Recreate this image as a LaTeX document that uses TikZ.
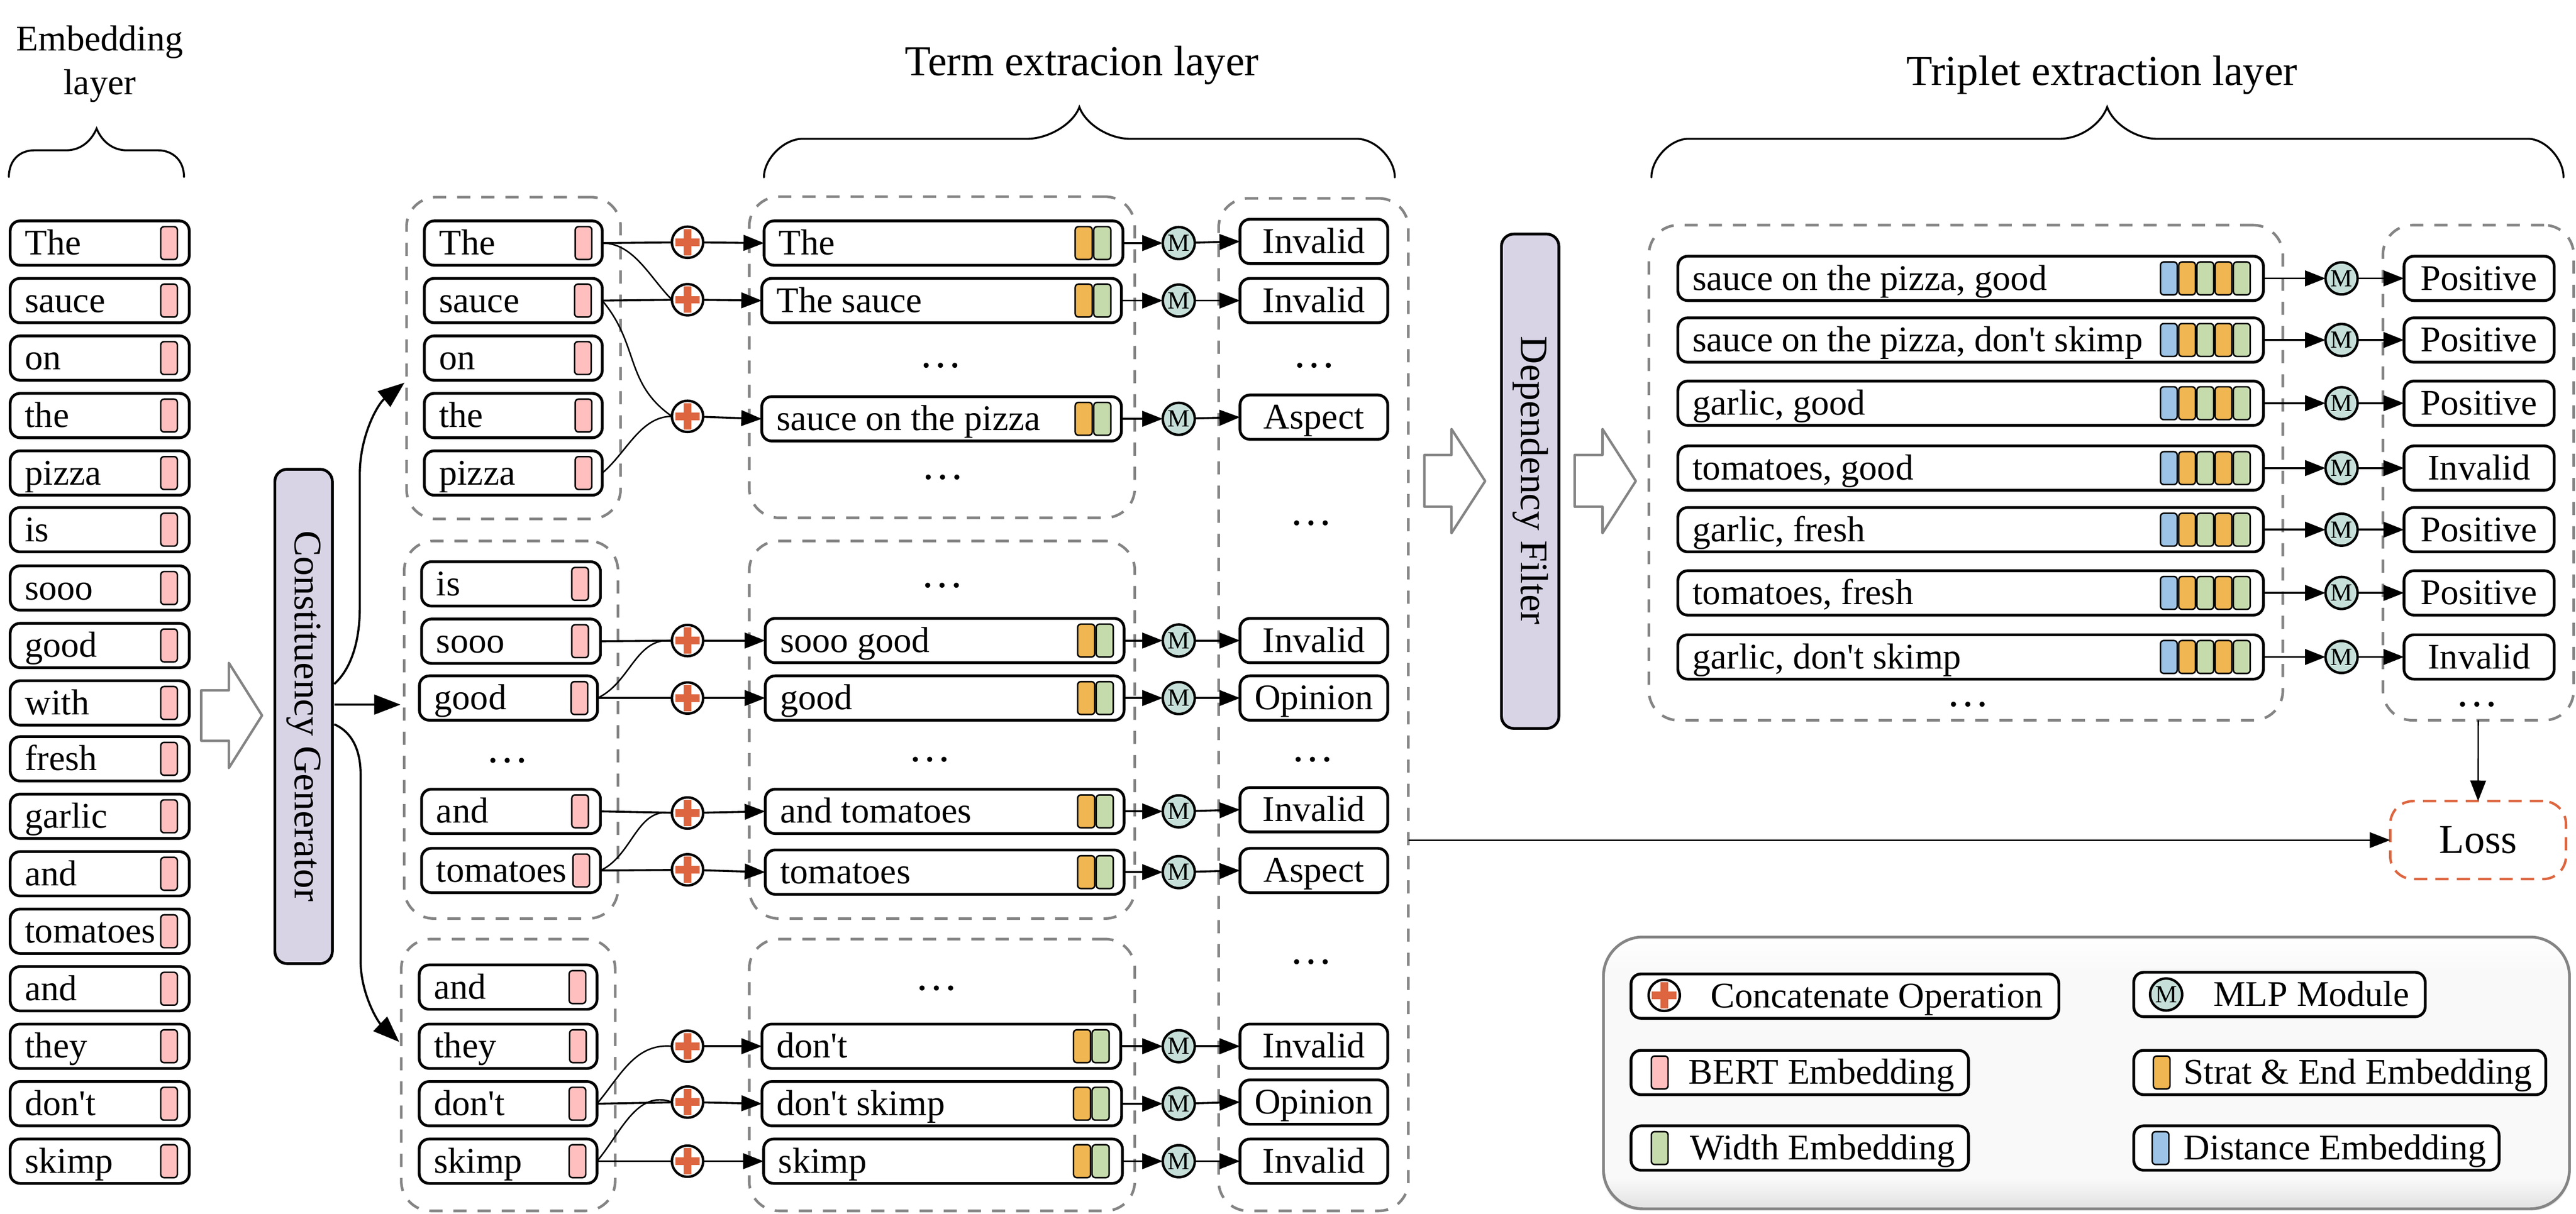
\documentclass[tikz,border=0pt]{standalone}
\usepackage{fontspec}
\setmainfont{Liberation Serif}[Ligatures=TeXOff]
\usetikzlibrary{arrows.meta,calc}
\definecolor{pinkc}{HTML}{FFBFBF}
\definecolor{orangec}{HTML}{F0B651}
\definecolor{greenc}{HTML}{C6DBAC}
\definecolor{bluec}{HTML}{9DC3E6}
\definecolor{tealc}{HTML}{C6E0D9}
\definecolor{crossc}{HTML}{DD6640}
\definecolor{purplec}{HTML}{D8D4E6}
\definecolor{grayc}{HTML}{848484}
\tikzset{
  bodyfont/.style={font=\fontsize{22}{26}\selectfont},
  wbox/.style={draw=black,fill=white,line width=1.7pt,rounded corners=6pt,outer sep=0pt,inner xsep=1pt,inner ysep=0pt,
    minimum height=27pt,text height=18.2pt,text depth=4pt,align=left,bodyfont},
  cbox/.style={draw=black,fill=white,line width=1.7pt,rounded corners=6pt,outer sep=0pt,inner sep=0pt,
    minimum height=27pt,text height=18.2pt,text depth=4pt,align=center,bodyfont},
  swatch/.style={draw=black,line width=0.9pt,rounded corners=2pt,outer sep=0pt,inner sep=0pt,minimum height=20pt},
  grp/.style={draw=grayc,line width=1.6pt,rounded corners=18pt,dash pattern=on 8pt off 6.7pt,outer sep=0pt,inner sep=0pt},
  plusn/.style={circle,draw=black,fill=white,line width=1.5pt,minimum size=19pt,inner sep=0pt,outer sep=0pt},
  mlpn/.style={circle,draw=black,fill=tealc,line width=1.5pt,minimum size=19.5pt,inner sep=0pt,outer sep=0pt,font=\fontsize{15}{15}\selectfont},
  barn/.style={draw=black,fill=purplec,line width=1.7pt,rounded corners=7.5pt,outer sep=0pt,inner sep=0pt},
  ln/.style={line width=1.2pt},
  cv/.style={line width=0.9pt},
  ar/.style={line width=1.2pt,-{Triangle[length=12.5pt,width=9.5pt]}},
  big/.style={line width=1.3pt,-{Triangle[length=16pt,width=12pt]}},
  hol/.style={draw=grayc,fill=white,line width=1.5pt,line join=round},
  dotsn/.style={font=\fontsize{26}{26}\selectfont,anchor=base,inner sep=0pt},
  title/.style={font=\fontsize{25.9}{30}\selectfont,anchor=base,inner sep=0pt},
  brace/.style={line width=1.2pt,line cap=round},
}
% box with left aligned text: name, x1, x2, y, text, [pad]
\newcommand\wb[6][8]{%
  \pgfmathsetmacro\wcx{(#3+#4)/2}\pgfmathsetmacro\www{#4-#3-1.6}\pgfmathsetmacro\wtw{\www-2}%
  \node[wbox,minimum width=\www pt,text width=\wtw pt] (#2) at (\wcx,#5) {\spaceskip=0pt\xspaceskip=0pt\hspace*{#1pt}\mbox{#6}};}
% box with centred text
\newcommand\cb[5]{%
  \pgfmathsetmacro\wcx{(#2+#3)/2}\pgfmathsetmacro\www{#3-#2-1.6}%
  \node[cbox,minimum width=\www pt] (#1) at (\wcx,#4) {#5};}
% colour block: name, colour, x1, w, y
\newcommand\sw[5]{\pgfmathsetmacro\wsw{#4-0.9}\node[swatch,fill=#2,minimum width=\wsw pt] (#1) at ({#3+#4/2},#5) {};}
% group: name, x1, x2, y1, y2
\newcommand\group[5]{%
  \pgfmathsetmacro\wcx{(#2+#3)/2}\pgfmathsetmacro\wcy{(#4+#5)/2}\pgfmathsetmacro\www{#3-#2-1.5}\pgfmathsetmacro\whh{#5-#4-1.5}%
  \node[grp,minimum width=\www pt,minimum height=\whh pt] (#1) at (\wcx,\wcy) {};}
% plus: name, x, y
\newcommand\pl[3]{%
  \node[plusn] (#1) at (#2,#3) {};
  \fill[crossc] ({#2-7.5},{#3-2.3}) rectangle ({#2+7.5},{#3+2.3});
  \fill[crossc] ({#2-2.3},{#3-8}) rectangle ({#2+2.3},{#3+8});}
% dots
\newcommand\dd[3]{\node[dotsn] (#1) at (#2,{#3+1.8}) {…};}
% word in a column: name,x1,x2,swatch x,y,text
\newcommand\word[6]{\wb{#1}{#2}{#3}{#5}{#6}\sw{#1e}{pinkc}{#4}{11}{#5}}
% term row: id, x1, x2, swatch x, y, text, output, y output, y plus
\newcommand\term[9]{%
  \wb{t#1}{#2}{#3}{#5}{#6}%
  \sw{t#1a}{orangec}{#4}{11.3}{#5}\sw{t#1b}{greenc}{#4+11.3}{11.3}{#5}%
  \node[mlpn] (m#1) at (717.5,#5) {M};
  \cb{o#1}{754}{845.5}{#8}{#7}%
  \pl{p#1}{418.5}{#9}
  \draw[ar] (p#1) -- (t#1.west);
  \draw[ar] (t#1.east) -- (m#1);
  \draw[ar] (m#1) -- (o#1.west);}
% triplet row: id, y, text, output
\newcommand\trip[4]{%
  \wb{r#1}{1020.5}{1378.5}{#2}{#3}%
  \sw{r#1a}{bluec}{1314.6}{11.1}{#2}\sw{r#1b}{orangec}{1325.7}{11.1}{#2}\sw{r#1c}{greenc}{1336.8}{11.1}{#2}%
  \sw{r#1d}{orangec}{1347.9}{11.1}{#2}\sw{r#1e}{greenc}{1359}{11.1}{#2}%
  \node[mlpn] (n#1) at (1425.3,#2) {M};
  \cb{s#1}{1462.5}{1555.5}{#2}{#4}%
  \draw[ar] (r#1.east) -- (n#1);
  \draw[ar] (n#1) -- (s#1.west);}
% hollow arrow: x0, xh, xt, y stem top, y stem bottom, y head top, y head bottom
\newcommand\hollow[7]{\draw[hol] (#1,#4) -- (#2,#4) -- (#2,#6) -- (#3,{(#6+#7)/2}) -- (#2,#7) -- (#2,#5) -- (#1,#5) -- cycle;}
% brace: x1, x2, xfl1, xfe1, xc, xfl2, xfe2
\newcommand\bracket[7]{\draw[brace] (#1,108) .. controls (#1,97) and ({(#1+#3)/2},85) .. (#3,84.5) -- (#4,84.5)
  .. controls ({#4+12},84.5) and ({#5-4},76) .. (#5,65.2) .. controls ({#5+4},76) and ({#6-12},84.5) .. (#6,84.5) -- (#7,84.5)
  .. controls ({(#2+#7)/2},85) and (#2,97) .. (#2,108);}
\begin{document}
\begin{tikzpicture}[x=1pt,y=-1pt]
\useasboundingbox (0,0) rectangle (1568,739);
% titles
\node[anchor=base,inner sep=0pt,bodyfont] (tt1) at (60.7,30.8) {Embedding};
\node[anchor=base,inner sep=0pt,bodyfont] (tt2) at (60.7,57.6) {layer};
\node[title] (tt3) at (658.5,46) {Term extracion layer};
\node[title] (tt4) at (1279.5,52) {Triplet extraction layer};
% braces
\draw[brace] (5.4,107.8) .. controls (5.4,97.5) and (12,91.5) .. (21,91.5) -- (40.4,91.5)
  .. controls (49,91.5) and (55.5,86) .. (58.8,78.3) .. controls (62,86) and (68.5,91.5) .. (77,91.5) -- (96,91.5)
  .. controls (105,91.5) and (112,97.5) .. (112,107.8);
\bracket{465}{849}{488}{625.5}{657}{687.5}{826.4}
\bracket{1005.2}{1560.4}{1027.2}{1253.8}{1282.6}{1312.7}{1539.3}
% dashed groups
\group{g1}{246.7}{378.5}{119.3}{316.7}
\group{g2}{245.3}{376.9}{328.6}{560}
\group{g3}{243.5}{375.2}{571}{738}
\group{h1}{455.3}{691.5}{119}{316}
\group{h2}{455.3}{691.5}{328.6}{560}
\group{h3}{455.3}{691.5}{571}{738}
\group{rg}{741}{858}{120}{738}
\group{tg}{1002.9}{1390.3}{136.3}{439.3}
\group{ug}{1449.7}{1567.3}{136.3}{439.3}
% embedding column
\foreach \n/\t/\y in {l1/The/148,l2/sauce/183,l3/on/218,l4/the/253,l5/pizza/288,l6/is/322.5,l7/sooo/358,l8/good/393,l9/with/428,l10/fresh/462,l11/garlic/497,l12/and/532,l13/tomatoes/567,l14/and/602,l15/they/637,l16/don't/672,l17/skimp/707}{
  \word{\n}{5.4}{116}{97.4}{\y}{\t}
}
% hollow arrows
\hollow{122.5}{139.3}{159.5}{420.3}{451}{403.6}{467.6}
\hollow{867}{883.5}{904}{277}{308.5}{261.2}{324.6}
\hollow{958.5}{975.4}{995.7}{277}{308.5}{261.2}{324.6}
% bars
\node[barn,minimum width=35pt,minimum height=301pt] (gen) at (184.8,436.2) {};
\node[rotate=-90,inner sep=0pt,font=\fontsize{23.7}{26}\selectfont] (gent) at (184.8,436) {Constituency Generator};
\node[barn,minimum width=35pt,minimum height=301pt] (dep) at (931.4,293) {};
\node[rotate=-90,inner sep=0pt,font=\fontsize{23.7}{26}\selectfont] (dept) at (931.4,292.5) {Dependency Filter};
% generator arrows
\coordinate (gs1) at (203.4,416.5);
\coordinate (gs2) at (203.4,429);
\coordinate (gs3) at (203.4,441);
\coordinate (ge1) at (246.2,233);
\coordinate (ge2) at (243.8,429);
\coordinate (ge3) at (243,634.4);
\draw[big] (gs1) .. controls (213,408) and (219,392) .. (219,370) -- (219,289) .. controls (219,265) and (230,246) .. (ge1);
\draw[big] (gs2) -- (ge2);
\draw[big] (gs3) .. controls (213,445) and (219.5,455) .. (219.5,471.5) -- (219.5,585) .. controls (219.5,605) and (230,622) .. (ge3);
% word group 1
\word{a1}{257.5}{367.4}{349.7}{148}{The}
\word{a2}{257.5}{367.4}{349.3}{183}{sauce}
\word{a3}{257.5}{367.4}{349.3}{218}{on}
\word{a4}{257.5}{367.4}{349.7}{253}{the}
\word{a5}{257.5}{367.4}{349.7}{288}{pizza}
% word group 2
\word{b1}{255.8}{366.3}{347.6}{355.5}{is}
\word{b2}{255.8}{366.3}{347.6}{390.4}{sooo}
\word{b3}{254.5}{364.5}{347.2}{425}{good}
\dd{bd}{308.8}{462.5}
\word{b4}{255.8}{366.3}{347.6}{494}{and}
\word{b5}{255.8}{366.3}{348.3}{530}{tomatoes}
% word group 3
\word{c1}{254.4}{364.2}{346}{601}{and}
\word{c2}{254.4}{364.2}{346.3}{637}{they}
\word{c3}{254.4}{364.2}{346}{672}{don't}
\word{c4}{254.4}{364.2}{346}{707}{skimp}
% terms
\term{1}{464.3}{684.3}{654}{148}{The}{Invalid}{147}{147.5}
\term{2}{462.9}{683.4}{654}{183}{The sauce}{Invalid}{183}{182.5}
\term{3}{462.9}{683.4}{654}{255}{sauce on the pizza}{Aspect}{254}{253.5}
\term{4}{465}{685}{655.5}{390}{sooo good}{Invalid}{390}{390}
\term{5}{465}{685}{655.5}{425}{good}{Opinion}{425}{425}
\term{6}{465}{685}{655.5}{494}{and tomatoes}{Invalid}{493}{495}
\term{7}{465}{685}{655.5}{531}{tomatoes}{Aspect}{530}{529.6}
\term{8}{463}{683}{653}{637}{don't}{Invalid}{637}{637}
\term{9}{463}{683.5}{653}{672}{don't skimp}{Opinion}{671}{671}
\term{10}{464}{684}{653}{707}{skimp}{Invalid}{707}{707}
% concatenation links
\draw[ln] (a1.east) -- (p1);
\draw[ln] (a2.east) -- (p2);
\draw[cv] (a1.east) to[out=0,in=135,looseness=0.9] (p2.west);
\draw[cv] (a2.east) to[out=-50,in=145,looseness=1.1] (p3.west);
\draw[cv] (a5.east) to[out=40,in=180,looseness=0.9] (p3.west);
\draw[ln] (b2.east) -- (p4);
\draw[cv] (b3.east) to[out=25,in=175] (p4.west);
\draw[ln] (b3.east) -- (p5);
\draw[ln] (b4.east) -- (p6);
\draw[cv] (b5.east) to[out=25,in=170] (p6.west);
\draw[ln] (b5.east) -- (p7);
\draw[cv] (c3.east) to[out=50,in=175] (p8.west);
\draw[ln] (c3.east) -- (p9);
\draw[cv] (c4.east) to[out=50,in=160] (p9.west);
\draw[ln] (c4.east) -- (p10);
% dots
\dd{d1}{572.5}{222}
\dd{d2}{574}{290}
\dd{d3}{573.5}{356}
\dd{d4}{566}{462}
\dd{d5}{570}{601}
\dd{d6}{800}{222}
\dd{d7}{798}{318}
\dd{d8}{799}{462}
\dd{d9}{798}{585}
\dd{d10}{1198}{428.4}
\dd{d11}{1507.8}{428.4}
% triplets
\trip{1}{169.5}{sauce on the pizza, good}{Positive}
\trip{2}{207}{sauce on the pizza, don't skimp}{Positive}
\trip{3}{245.5}{garlic, good}{Positive}
\trip{4}{285}{tomatoes, good}{Invalid}
\trip{5}{322.5}{garlic, fresh}{Positive}
\trip{6}{361}{tomatoes, fresh}{Positive}
\trip{7}{400}{garlic, don't skimp}{Invalid}
% loss
\node[draw=crossc,line width=1.5pt,rounded corners=14pt,dash pattern=on 8pt off 5pt,minimum width=107pt,minimum height=47.5pt,outer sep=0pt,inner sep=0pt,font=\fontsize{25}{28}\selectfont] (loss) at (1508.4,511.5) {Loss};
\draw[ar,line width=0.9pt] (ug.south) -- (loss.north);
\draw[ar,line width=0.9pt] (rg.east |- loss.west) -- (loss.west);
% legend
\begin{scope}
  \path[clip,rounded corners=24pt] (975,569.5) rectangle (1565,737);
  \fill[white] (975,569.5) rectangle (1565,737);
  \shade[top color=white,bottom color=black!2.5] (975,569.5) rectangle (1565,592);
  \fill[black!2.5] (975,592) rectangle (1565,718);
  \shade[top color=black!2.5,bottom color=black!12] (975,718) rectangle (1565,737);
\end{scope}
\node[draw=grayc,line width=1.7pt,rounded corners=24pt,minimum width=588pt,minimum height=165.5pt,outer sep=0pt,inner sep=0pt] (leg) at (1270,653.25) {};
\wb[47.5]{k1}{992}{1254}{606.5}{Concatenate Operation}
\pl{k1a}{1013}{606}
\wb[47.5]{k2}{1298}{1477}{605.5}{MLP Module}
\node[mlpn] (k2a) at (1318.5,605.5) {M};
\wb[34]{k3}{992}{1199}{653}{BERT Embedding}
\sw{k3a}{pinkc}{1004.7}{11.1}{653}
\wb[29.5]{k4}{1298}{1550.4}{653}{Strat \& End Embedding}
\sw{k4a}{orangec}{1310.3}{11}{653}
\wb[35]{k5}{992}{1199}{699}{Width Embedding}
\sw{k5a}{greenc}{1004.7}{11.1}{699}
\wb[29.5]{k6}{1298}{1522}{699}{Distance Embedding}
\sw{k6a}{bluec}{1309.6}{11}{699}
\end{tikzpicture}
\end{document}
